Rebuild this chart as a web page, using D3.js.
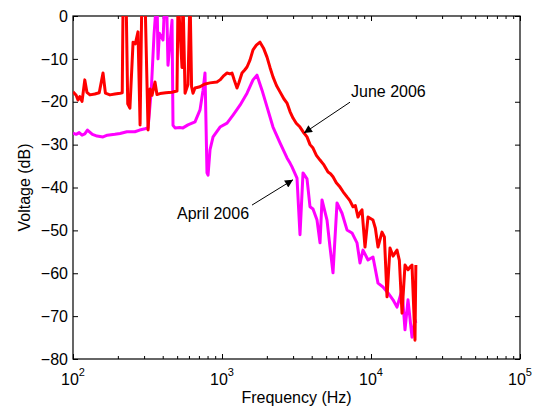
<!DOCTYPE html>
<html>
<head>
<meta charset="utf-8">
<script src="https://cdn.jsdelivr.net/npm/d3@7"></script>
<style>
  body { margin: 0; background: #fff; }
  text { font-family: "Liberation Sans", Arial, Helvetica, sans-serif; }
</style>
</head>
<body>
<div id="chart"></div>
<script>
// June 2006 measurement (red)
var juneFreq = [100, 105, 108, 111, 115, 120, 124, 130, 140, 150, 159, 165, 177, 191, 207, 214,
  217, 227, 233, 241, 253, 262, 273, 282, 290, 304, 319, 329, 339, 355, 366, 384, 420, 460, 499,
  507, 539, 547, 565, 591, 610, 625, 639, 659, 712, 760, 830, 925, 970, 1030, 1081, 1130, 1167,
  1210, 1261, 1300, 1362, 1420, 1472, 1541, 1615, 1700, 1799, 1900, 2005, 2100, 2199, 2320, 2451,
  2600, 2731, 2860, 2996, 3150, 3338, 3550, 3720, 3897, 4081, 4300, 4548, 4800, 5146, 5350, 5559,
  5850, 6194, 6500, 6900, 7200, 7573, 7850, 8181, 8450, 8703, 9115, 9548, 10313, 10700, 11143,
  11852, 12300, 12808, 13414, 14051, 14944, 15500, 16150, 16914, 17714, 18300, 18843, 19740, 20000];
var juneDb = [-17.7, -18.5, -19.6, -18.8, -19.9, -14.9, -17.8, -18.4, -18.2, -17.9, -13.3, -18.0,
  -18.4, -18.2, -18.0, -17.9, 5, 5, -20.5, -21.5, -6.1, -6.5, -3.7, -25.4, 5, 5, -26.6, -17.0,
  -18.5, -15.4, -18.3, -18.1, -17.9, -17.8, -17.5, 5, -12, 5, -18, -16, 5, -16.5, -18, -16.8,
  -16.5, -15.9, -15.6, -15.4, -14.9, -13.9, -13.3, -13.5, -13.3, -15.0, -16.8, -15.5, -13.3,
  -12.6, -11.9, -10.3, -7.9, -6.8, -6.1, -7.5, -9.6, -12.0, -14.2, -16.2, -17.7, -19.3, -20.3,
  -22.3, -23.8, -25.0, -25.9, -27.3, -28.2, -30.0, -30.8, -32.5, -33.6, -34.6, -36.4, -36.8,
  -37.5, -38.9, -39.9, -41.0, -42.2, -43.0, -44.5, -44.2, -46.9, -45.8, -45.2, -53.9, -46.9,
  -47.6, -49.5, -53.9, -50.4, -51.5, -65.5, -54.1, -56.0, -54.6, -57.0, -69.3, -58.1, -59.2,
  -58.5, -58.1, -75.6, -58.1];

// April 2006 measurement (magenta)
var aprilFreq = [100, 105, 110, 115, 120, 125, 135, 145, 159, 170, 191, 207, 230, 260, 280, 304,
  319, 335, 350, 366, 372, 380, 402, 414, 427, 434, 462, 469, 484, 520, 547, 591, 659, 712, 746,
  769, 793, 806, 831, 871, 970, 1081, 1186, 1321, 1472, 1615, 1717, 1856, 2005, 2199, 2451, 2731,
  2861, 2950, 3187, 3338, 3497, 3720, 3897, 4081, 4342, 4548, 4690, 5067, 5307, 5559, 5915, 6390,
  6900, 7457, 8054, 8438, 8838, 9548, 10313, 11143, 12036, 13007, 14051, 14944, 16150, 16914,
  17714, 18843, 19740, 20000];
var aprilDb = [-27.3, -27.6, -27.2, -27.8, -27.5, -26.6, -27.6, -28.0, -28.2, -27.8, -27.6, -27.4,
  -27.0, -27.0, -26.6, -26.3, -26.1, -17.5, -4.2, 5, -10, -4, -5.6, 5, -0.2, -11.5, -1, -25.5,
  -26.1, -26.0, -26.1, -25.4, -24.7, -21.9, -17.3, -13.3, -36.6, -37.1, -31.2, -28.2, -25.9,
  -25.0, -23.1, -20.8, -18.0, -14.9, -13.8, -17.3, -21.2, -25.9, -29.6, -33.1, -34.3, -35.2,
  -37.8, -51.0, -36.6, -38.0, -44.5, -45.0, -47.6, -52.9, -42.9, -47.6, -53.9, -59.9, -43.6,
  -46.0, -49.9, -50.6, -52.9, -57.6, -54.6, -56.9, -56.2, -62.3, -63.2, -64.6, -66.2, -67.9,
  -63.9, -73.2, -66.2, -74.9, -70.9, -71.6];

var xMajor = [100, 1000, 10000, 100000];
var xExp = ["2", "3", "4", "5"];
var yTicks = [0, -10, -20, -30, -40, -50, -60, -70, -80];

// annotations: [label, text freq, text dB, arrow start freq, start dB, tip freq, tip dB]
var notes = [
  ["June 2006", 7340, -18.9, 7230, -20.1, 3550, -27.3],
  ["April 2006", 499, -47.3, 1590, -44.1, 2996, -38.2]
];

var W = 544, H = 410;
var margin = {top: 16, right: 24, bottom: 51, left: 73};
var w = W - margin.left - margin.right;
var h = H - margin.top - margin.bottom;
var fs = "16px";

var svg = d3.select("#chart").append("svg")
  .attr("width", W).attr("height", H);

var defs = svg.append("defs");
defs.append("clipPath").attr("id", "clip")
  .append("rect").attr("width", w).attr("height", h);
defs.append("marker").attr("id", "arrow")
  .attr("viewBox", "0 0 10 10").attr("refX", 10).attr("refY", 5)
  .attr("markerWidth", 11).attr("markerHeight", 8)
  .attr("markerUnits", "userSpaceOnUse")
  .attr("orient", "auto")
  .append("path").attr("d", "M0,0L10,5L0,10z").attr("fill", "#000");

var g = svg.append("g").attr("transform", "translate(" + margin.left + "," + margin.top + ")");

var x = d3.scaleLog().domain([100, 100000]).range([0, w]);
var y = d3.scaleLinear().domain([-80, 0]).range([h, 0]);

var xMinor = [];
[100, 1000, 10000].forEach(function(d) {
  for (var k = 2; k < 10; k++) xMinor.push(d * k);
});

function styleAxis(sel) {
  sel.select(".domain").remove();
  sel.selectAll("line").attr("stroke", "#000");
  sel.selectAll("text").attr("font-size", fs).attr("fill", "#000");
}

// ticks pointing inward on all four sides
g.append("g").attr("transform", "translate(0," + h + ")")
  .call(d3.axisBottom(x).tickValues(xMajor).tickSize(-5).tickFormat(""))
  .call(styleAxis);
g.append("g").attr("transform", "translate(0," + h + ")")
  .call(d3.axisBottom(x).tickValues(xMinor).tickSize(-3).tickFormat(""))
  .call(styleAxis);
g.append("g")
  .call(d3.axisTop(x).tickValues(xMajor).tickSize(-5).tickFormat(""))
  .call(styleAxis);
g.append("g")
  .call(d3.axisTop(x).tickValues(xMinor).tickSize(-3).tickFormat(""))
  .call(styleAxis);
g.append("g")
  .call(d3.axisLeft(y).tickValues(yTicks).tickSize(-5).tickPadding(5)
    .tickFormat(function(d) { return d === 0 ? "0" : "\u2212" + Math.abs(d); }))
  .call(styleAxis);
g.append("g").attr("transform", "translate(" + w + ",0)")
  .call(d3.axisRight(y).tickValues(yTicks).tickSize(-5).tickFormat(""))
  .call(styleAxis);

// x tick labels with superscript exponents
var xl = g.selectAll(".xlab").data(xMajor).enter().append("text")
  .attr("class", "xlab")
  .attr("x", function(d) { return x(d); })
  .attr("y", h + 26)
  .attr("text-anchor", "middle")
  .attr("font-size", fs);
xl.append("tspan").text("10");
xl.append("tspan").attr("dy", -9).attr("font-size", "11px")
  .text(function(d, i) { return xExp[i]; });

// box
g.append("rect").attr("width", w).attr("height", h)
  .attr("fill", "none").attr("stroke", "#000").attr("stroke-width", 1.2);

var line = d3.line()
  .x(function(d) { return x(d[0]); })
  .y(function(d) { return y(d[1]); });

var plot = g.append("g").attr("clip-path", "url(#clip)");
plot.append("path")
  .datum(d3.zip(aprilFreq, aprilDb))
  .attr("d", line)
  .attr("fill", "none").attr("stroke", "#ff00ff")
  .attr("stroke-width", 3).attr("stroke-linejoin", "round");
plot.append("path")
  .datum(d3.zip(juneFreq, juneDb))
  .attr("d", line)
  .attr("fill", "none").attr("stroke", "#ff0000")
  .attr("stroke-width", 3).attr("stroke-linejoin", "round");

// annotations
notes.forEach(function(n) {
  g.append("text")
    .attr("x", x(n[1])).attr("y", y(n[2]))
    .attr("font-size", fs).attr("fill", "#000")
    .text(n[0]);
  g.append("line")
    .attr("x1", x(n[3])).attr("y1", y(n[4]))
    .attr("x2", x(n[5])).attr("y2", y(n[6]))
    .attr("stroke", "#000").attr("stroke-width", 1)
    .attr("marker-end", "url(#arrow)");
});

// axis titles
svg.append("text")
  .attr("x", margin.left + w / 2).attr("y", 403)
  .attr("text-anchor", "middle").attr("font-size", fs)
  .text("Frequency (Hz)");
svg.append("text")
  .attr("transform", "translate(30," + (margin.top + h / 2) + ") rotate(-90)")
  .attr("text-anchor", "middle").attr("font-size", fs)
  .text("Voltage (dB)");
</script>
</body>
</html>
